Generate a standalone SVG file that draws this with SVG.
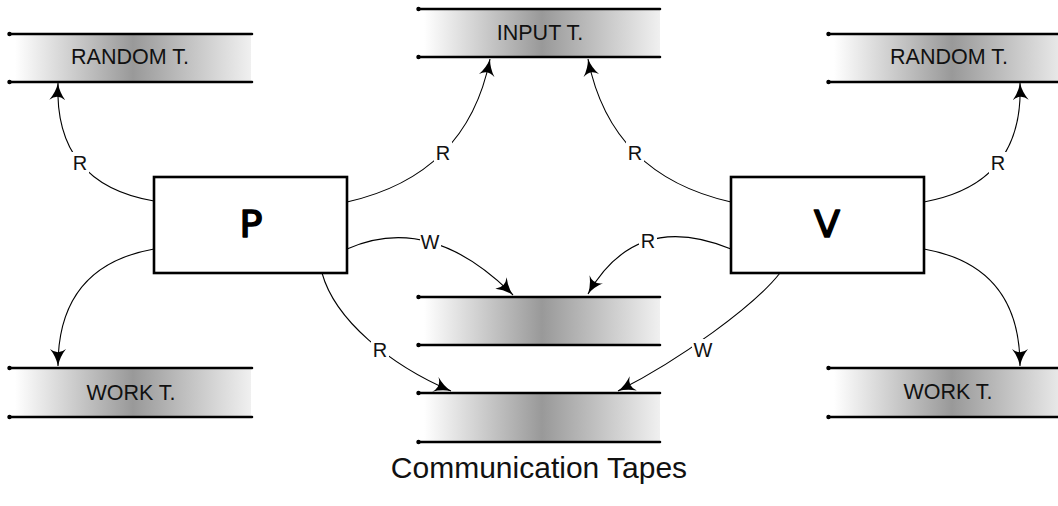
<svg xmlns="http://www.w3.org/2000/svg" width="1058" height="506" viewBox="0 0 1058 506">
  <defs>
    <linearGradient id="tapeFill" x1="0" y1="0" x2="1" y2="0">
      <stop offset="0" stop-color="#ffffff"/>
      <stop offset="0.5" stop-color="#999999"/>
      <stop offset="1" stop-color="#f0f0f0"/>
    </linearGradient>
    <marker id="arrow" viewBox="0 0 17 16" refX="17" refY="8" markerWidth="17" markerHeight="16" markerUnits="userSpaceOnUse" orient="auto">
      <path d="M17,8 Q7.5,6 0,0 Q6.5,8 0,16 Q7.5,10 17,8 Z" fill="#000"/>
    </marker>
  </defs>
  <style>
    .tape-fill { fill: url(#tapeFill); }
    .tape-line { stroke: #000; stroke-width: 2.6; stroke-linecap: round; fill: none; }
    .tape-end { fill: #000; }
    .tape-label { font-family: "Liberation Sans", Arial, sans-serif; font-size: 21.5px; fill: #111; text-anchor: middle; }
    .box { fill: #fff; stroke: #000; stroke-width: 2.6; }
    .box-label { font-family: "DejaVu Sans", sans-serif; font-size: 38px; fill: #000; stroke: #000; stroke-width: 1.6; stroke-linejoin: round; stroke-linecap: round; text-anchor: middle; }
    .edge { fill: none; stroke: #000; stroke-width: 1.1; marker-end: url(#arrow); }
    .edge-label { font-family: "Liberation Sans", Arial, sans-serif; font-size: 20px; fill: #111; text-anchor: middle; }
    .label-bg { fill: #fff; }
    .caption { font-family: "Liberation Sans", Arial, sans-serif; font-size: 30px; fill: #111; text-anchor: middle; }
  </style>

  <!-- Tapes: shaded band between two thick rails -->
  <g id="random-tape-p" transform="translate(8,34)">
    <rect class="tape-fill" x="7" y="0" width="236" height="48"/>
    <path class="tape-line" d="M1,0 H244 M1,48 H244"/>
    <circle class="tape-end" cx="1.5" cy="0" r="2.2"/><circle class="tape-end" cx="1.5" cy="48" r="2.2"/>
    <text class="tape-label" x="122" y="30">RANDOM T.</text>
  </g>
  <g id="input-tape" transform="translate(417,9)">
    <rect class="tape-fill" x="7" y="0" width="236" height="48"/>
    <path class="tape-line" d="M1,0 H243 M1,48 H243"/>
    <circle class="tape-end" cx="1.5" cy="0" r="2.2"/><circle class="tape-end" cx="1.5" cy="48" r="2.2"/>
    <text class="tape-label" x="123" y="31">INPUT T.</text>
  </g>
  <g id="random-tape-v" transform="translate(827,34)">
    <rect class="tape-fill" x="7" y="0" width="236" height="48"/>
    <path class="tape-line" d="M1,0 H244 M1,48 H244"/>
    <circle class="tape-end" cx="1.5" cy="0" r="2.2"/><circle class="tape-end" cx="1.5" cy="48" r="2.2"/>
    <text class="tape-label" x="122" y="30">RANDOM T.</text>
  </g>
  <g id="work-tape-p" transform="translate(8,368)">
    <rect class="tape-fill" x="7" y="0" width="236" height="49"/>
    <path class="tape-line" d="M1,0 H244 M1,49 H244"/>
    <circle class="tape-end" cx="1.5" cy="0" r="2.2"/><circle class="tape-end" cx="1.5" cy="49" r="2.2"/>
    <text class="tape-label" x="123" y="32">WORK T.</text>
  </g>
  <g id="work-tape-v" transform="translate(827,368)">
    <rect class="tape-fill" x="7" y="0" width="236" height="49"/>
    <path class="tape-line" d="M1,0 H244 M1,49 H244"/>
    <circle class="tape-end" cx="1.5" cy="0" r="2.2"/><circle class="tape-end" cx="1.5" cy="49" r="2.2"/>
    <text class="tape-label" x="121" y="31">WORK T.</text>
  </g>
  <g id="comm-tape-1" transform="translate(417,297)">
    <rect class="tape-fill" x="7" y="0" width="236" height="48"/>
    <path class="tape-line" d="M1,0 H243 M1,48 H243"/>
    <circle class="tape-end" cx="1.5" cy="0" r="2.2"/><circle class="tape-end" cx="1.5" cy="48" r="2.2"/>
  </g>
  <g id="comm-tape-2" transform="translate(417,393)">
    <rect class="tape-fill" x="7" y="0" width="236" height="49"/>
    <path class="tape-line" d="M1,0 H243 M1,49 H243"/>
    <circle class="tape-end" cx="1.5" cy="0" r="2.2"/><circle class="tape-end" cx="1.5" cy="49" r="2.2"/>
  </g>
  <text id="comm-caption" class="caption" x="539" y="478">Communication Tapes</text>

  <!-- Read / write connectors -->
  <g id="connectors">
    <path class="edge" d="M154,201 Q54,184 58,83"/>
    <path class="edge" d="M347,202 Q467,175 490,59"/>
    <path class="edge" d="M347,249 Q430,212 513,295"/>
    <path class="edge" d="M322,273 C335,320 390,365 451,391"/>
    <path class="edge" d="M154,249 Q58,266 58,366"/>
    <path class="edge" d="M731,202 Q611,175 588,59"/>
    <path class="edge" d="M731,249 Q636,210 588,294"/>
    <path class="edge" d="M780,273 C755,305 680,360 618,391"/>
    <path class="edge" d="M924,202 Q1024,184 1020,83"/>
    <path class="edge" d="M924,249 Q1020,266 1020,366"/>

    <rect class="label-bg" x="71" y="152" width="18" height="22"/>
    <text class="edge-label" x="80" y="170">R</text>
    <rect class="label-bg" x="434" y="142" width="18" height="22"/>
    <text class="edge-label" x="443" y="160">R</text>
    <rect class="label-bg" x="420" y="231" width="21" height="22"/>
    <text class="edge-label" x="430" y="249">W</text>
    <rect class="label-bg" x="371" y="339" width="18" height="22"/>
    <text class="edge-label" x="380" y="357">R</text>
    <rect class="label-bg" x="626" y="142" width="18" height="22"/>
    <text class="edge-label" x="635" y="160">R</text>
    <rect class="label-bg" x="639" y="230" width="18" height="22"/>
    <text class="edge-label" x="648" y="248">R</text>
    <rect class="label-bg" x="692" y="339" width="22" height="22"/>
    <text class="edge-label" x="703" y="357">W</text>
    <rect class="label-bg" x="989" y="152" width="18" height="22"/>
    <text class="edge-label" x="998" y="170">R</text>
  </g>

  <!-- Machines -->
  <g id="node-p">
    <rect class="box" x="154" y="177" width="193" height="96"/>
    <text class="box-label" x="251" y="237">P</text>
  </g>
  <g id="node-v">
    <rect class="box" x="731" y="177" width="193" height="96"/>
    <text class="box-label" x="827" y="237">V</text>
  </g>
</svg>
